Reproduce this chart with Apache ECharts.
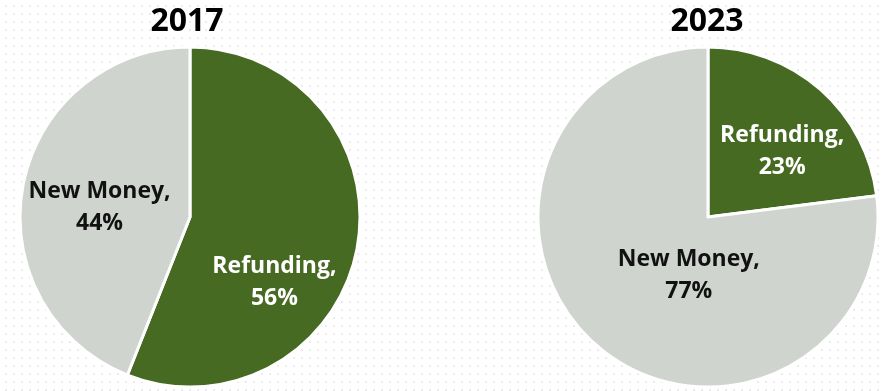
<!DOCTYPE html>
<html>
<head>
<meta charset="utf-8">
<script src="https://cdn.jsdelivr.net/npm/echarts@6/dist/echarts.min.js"></script>
<style>
  html, body { margin: 0; padding: 0; }
  body {
    width: 882px; height: 391px; overflow: hidden;
    background-color: #ffffff;
    background-image: radial-gradient(circle, #ebebeb 0.9px, transparent 1.1px);
    background-size: 8px 8px;
    background-position: 2px 2px;
  }
  #chart { width: 882px; height: 391px; }
</style>
</head>
<body>
<div id="chart"></div>
<script>
// Share of issuance by purpose, two years side by side
const years = ['2017', '2023'];
const categories = ['Refunding', 'New Money'];
const share2017 = [56, 44];
const share2023 = [23, 77];

const sliceColors = { 'Refunding': '#476a22', 'New Money': '#cfd4ce' };
const labelColors = { 'Refunding': '#ffffff', 'New Money': '#111111' };
const fontFamily = '"Open Sans", "DejaVu Sans", sans-serif';

// where each inside label sits relative to its default spot
const labelNudge = [
  [[-2, 49], [-4, 7]],
  [[16, 0], [39, -8]]
];

function pieData(values) {
  return categories.map((name, i) => ({
    name: name,
    value: values[i],
    itemStyle: { color: sliceColors[name] },
    label: { color: labelColors[name] }
  }));
}

function pieSeries(values, centerX, nudges) {
  return {
    type: 'pie',
    center: [centerX, 217],
    radius: [0, 170],
    startAngle: 90,
    clockwise: true,
    silent: true,
    animation: false,
    itemStyle: { borderColor: '#ffffff', borderWidth: 3 },
    label: {
      show: true,
      position: 'inside',
      formatter: '{b},\n{c}%',
      fontFamily: fontFamily,
      fontWeight: 'bold',
      fontSize: 23,
      lineHeight: 32,
      align: 'center'
    },
    labelLine: { show: false },
    labelLayout: function (params) {
      const n = nudges[params.dataIndex];
      return { dx: n[0], dy: n[1] };
    },
    data: pieData(values)
  };
}

const titleStyle = { fontFamily: fontFamily, fontWeight: 'bold', fontSize: 32, color: '#000' };

const chart = echarts.init(document.getElementById('chart'), null, { renderer: 'canvas' });
chart.setOption({
  backgroundColor: 'transparent',
  title: [
    { text: years[0], left: 182, top: 1, textAlign: 'center', textStyle: titleStyle },
    { text: years[1], left: 702, top: 1, textAlign: 'center', textStyle: titleStyle }
  ],
  series: [
    pieSeries(share2017, 190, labelNudge[0]),
    pieSeries(share2023, 708, labelNudge[1])
  ]
});
</script>
</body>
</html>
